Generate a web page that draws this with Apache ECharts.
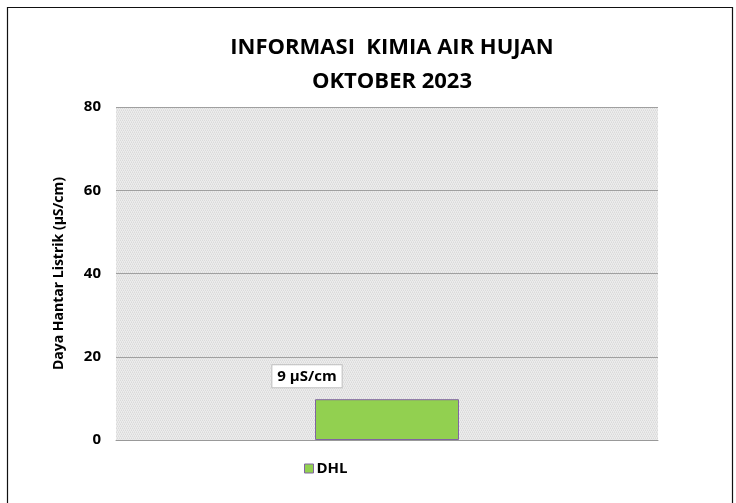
<!DOCTYPE html>
<html><head><meta charset="utf-8">
<script src="https://cdn.jsdelivr.net/npm/echarts@6/dist/echarts.min.js"></script>
<style>html,body{margin:0;padding:0;background:#fff}#c{width:736px;height:503px}</style>
</head><body><div id="c"></div>
<script>
const categories = ['DHL'];
const seriesName = 'DHL';
const values = [9.8];
const valueLabels = ['9 µS/cm'];
const yTicks = [0, 20, 40, 60, 80];
const titleLines = ['INFORMASI  KIMIA AIR HUJAN', 'OKTOBER 2023'];
const yAxisName = 'Daya Hantar Listrik (µS/cm)';

const pc = document.createElement('canvas');
pc.width = 4; pc.height = 4;
const ctx = pc.getContext('2d');
ctx.fillStyle = '#ececec'; ctx.fillRect(0,0,4,4);
ctx.fillStyle = '#dadada';
ctx.fillRect(0,0,1,1); ctx.fillRect(2,0,1,1);
ctx.fillRect(1,2,1,1); ctx.fillRect(3,2,1,1);
ctx.fillStyle = '#e2e2e2';
ctx.fillRect(1,1,1,1); ctx.fillRect(3,1,1,1); ctx.fillRect(0,3,1,1); ctx.fillRect(2,3,1,1);

const font = 'Open Sans';
const chart = echarts.init(document.getElementById('c'));
chart.setOption({
  animation: false,
  textStyle: {fontFamily: font},
  title: {
    text: titleLines.join('\n'),
    left: 387, top: 26, textAlign: 'center',
    textStyle: {fontSize: 22, fontWeight: 'bold', color: '#000', lineHeight: 34, fontFamily: font}
  },
  graphic: [{type: 'rect', shape: {x: 7.5, y: 7.5, width: 725, height: 510}, style: {fill: 'none', stroke: '#111', lineWidth: 1.2}, silent: true}],
  legend: {
    data: [{name: seriesName, icon: 'rect', itemStyle: {color: '#92d050', borderColor: '#8064a2', borderWidth: 1}}],
    left: 299, top: 456, itemWidth: 9, itemHeight: 9, itemGap: 4,
    textStyle: {fontSize: 15, fontWeight: 'bold', color: '#000', fontFamily: font, padding: [0,0,0,-2]}
  },
  grid: {left: 116, right: 78, top: 107, bottom: 63, backgroundColor: {image: pc, repeat: 'repeat'}, show: true, borderWidth: 0},
  xAxis: {
    type: 'category', data: categories,
    axisLine: {lineStyle: {color: '#999', width: 1}}, axisTick: {show: false}, axisLabel: {show: false}
  },
  yAxis: {
    type: 'value', min: yTicks[0], max: yTicks[yTicks.length-1], interval: 20,
    name: yAxisName, nameLocation: 'middle', nameGap: 50,
    nameTextStyle: {fontSize: 14, fontWeight: 'bold', color: '#000', fontFamily: font},
    axisLabel: {fontSize: 15, fontWeight: 'bold', color: '#000', margin: 15, fontFamily: font},
    splitLine: {lineStyle: {color: '#a0a0a0', width: 1}},
    axisLine: {show: false}, axisTick: {show: false}
  },
  series: [{
    name: seriesName, type: 'bar', data: values, barWidth: 144,
    itemStyle: {color: '#92d050', borderColor: '#8064a2', borderWidth: 1},
    label: {
      show: true, position: 'top', offset: [-80, -7],
      formatter: p => valueLabels[p.dataIndex],
      backgroundColor: '#fff', borderColor: '#c0c0c0', borderWidth: 1,
      padding: [4, 5, 3, 5], fontSize: 15, fontWeight: 'bold', color: '#000', fontFamily: font
    }
  }]
});
</script></body></html>
